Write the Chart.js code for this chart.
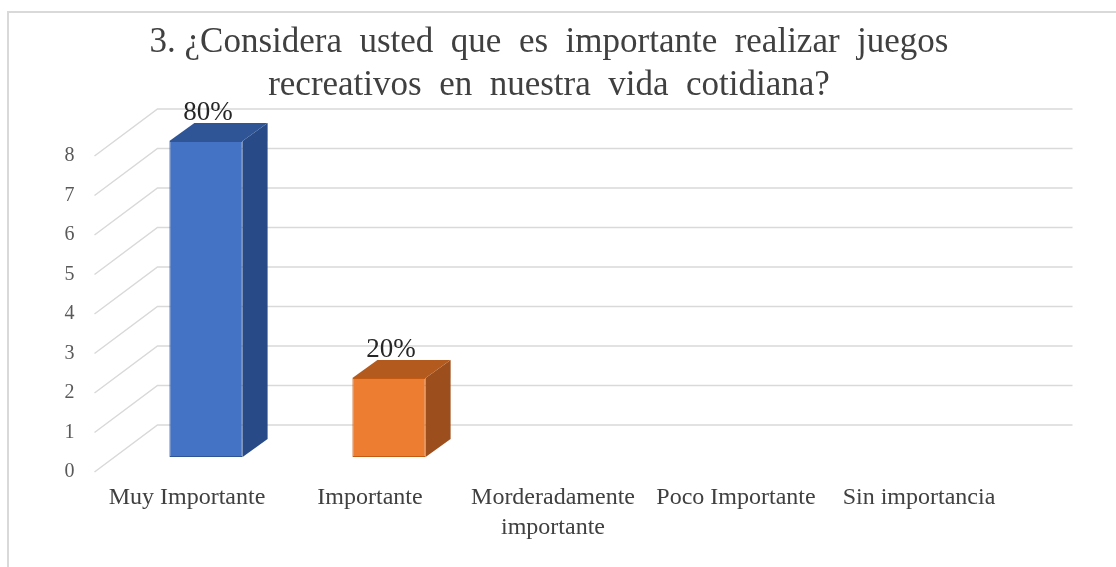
<!DOCTYPE html>
<html>
<head>
<meta charset="utf-8">
<script src="https://cdn.jsdelivr.net/npm/chart.js@4.4.1/dist/chart.umd.min.js"></script>
<style>
  html, body { margin: 0; padding: 0; background: #fff; }
  #wrap { position: relative; width: 1116px; height: 567px; overflow: hidden; }
  #frame { position: absolute; left: 7px; top: 11px; width: 1200px; height: 700px;
           border-top: 2px solid #d9d9d9; border-left: 2px solid #d9d9d9; }
  #chart { position: absolute; left: 0; top: 0; }
</style>
</head>
<body>
<div id="wrap">
  <div id="frame"></div>
  <canvas id="chart" width="1116" height="567"></canvas>
</div>
<script>
// 数据
const categories = ['Muy Importante', 'Importante', ['Morderadamente', 'importante'], 'Poco Importante', 'Sin importancia'];
const values = [8, 2, 0, 0, 0];
const valueLabels = ['80%', '20%', '', '', ''];
const yMin = 0;
const yMax = 8;
const yStep = 1;
const titleLines = ['3. ¿Considera  usted  que  es  importante  realizar  juegos', 'recreativos  en  nuestra  vida  cotidiana?'];

// 颜色（正面 / 侧面 / 顶面）
const frontColors = ['#4472C4', '#ED7D31', '#A5A5A5', '#FFC000', '#5B9BD5'];
const sideColors = ['#284A86', '#9C4E1C', '#6E6E6E', '#A67D00', '#3A6E9E'];
const topColors = ['#2F5597', '#B35A1F', '#7F7F7F', '#BF9000', '#41719C'];
const edgeColors = ['#2F5597', '#C55A11', '#7F7F7F', '#BF9000', '#41719C'];

// 3D 偏移
const depth = { sideDx: 25, sideDy: -18, backDx: 43, backDy: -32, frontDx: -20, frontDy: 15 };

const serif = "'Liberation Serif', 'Times New Roman', serif";

const threeDPlugin = {
  id: 'threeD',
  beforeDatasetsDraw(chart) {
    const { ctx, chartArea, scales } = chart;
    const yScale = scales.y;
    ctx.save();
    ctx.strokeStyle = '#d9d9d9';
    ctx.lineWidth = 1.5;
    yScale.ticks.forEach(t => {
      const y = yScale.getPixelForValue(t.value);
      ctx.beginPath();
      ctx.moveTo(chartArea.left + depth.frontDx, y + depth.frontDy);
      ctx.lineTo(chartArea.left + depth.backDx, y + depth.backDy);
      ctx.lineTo(chartArea.right + depth.backDx, y + depth.backDy);
      ctx.stroke();
    });
    ctx.restore();
  },
  afterDatasetsDraw(chart) {
    const { ctx } = chart;
    const meta = chart.getDatasetMeta(0);
    ctx.save();
    meta.data.forEach((bar, i) => {
      if (!values[i]) return;
      const p = bar.getProps(['x', 'y', 'base', 'width'], true);
      const l = p.x - p.width / 2;
      const r = p.x + p.width / 2;
      // 侧面
      ctx.fillStyle = sideColors[i];
      ctx.beginPath();
      ctx.moveTo(r, p.y);
      ctx.lineTo(r + depth.sideDx, p.y + depth.sideDy);
      ctx.lineTo(r + depth.sideDx, p.base + depth.sideDy);
      ctx.lineTo(r, p.base);
      ctx.closePath();
      ctx.fill();
      // 顶面
      ctx.fillStyle = topColors[i];
      ctx.beginPath();
      ctx.moveTo(l, p.y);
      ctx.lineTo(l + depth.sideDx, p.y + depth.sideDy);
      ctx.lineTo(r + depth.sideDx, p.y + depth.sideDy);
      ctx.lineTo(r, p.y);
      ctx.closePath();
      ctx.fill();
      // 数据标签
      if (valueLabels[i]) {
        ctx.fillStyle = '#262626';
        ctx.font = '27px ' + serif;
        ctx.textAlign = 'center';
        ctx.textBaseline = 'middle';
        ctx.fillText(valueLabels[i], p.x + 2, p.y - 28);
      }
    });
    ctx.restore();
  },
  afterDraw(chart) {
    // 标题（居中位置略偏右，和原图一致）
    const { ctx } = chart;
    ctx.save();
    ctx.fillStyle = '#404040';
    ctx.font = '35px ' + serif;
    ctx.textAlign = 'center';
    ctx.textBaseline = 'middle';
    titleLines.forEach((line, i) => {
      ctx.fillText(line, 549, 43 + i * 43);
    });
    ctx.restore();
  }
};

const chart = new Chart(document.getElementById('chart'), {
  type: 'bar',
  data: {
    labels: categories,
    datasets: [{
      data: values,
      backgroundColor: frontColors,
      borderColor: edgeColors,
      borderWidth: 1,
      borderSkipped: false,
      categoryPercentage: 1,
      barPercentage: 0.4
    }]
  },
  options: {
    responsive: false,
    animation: false,
    devicePixelRatio: 1,
    layout: { padding: { top: 141, right: 86.5, left: 0, bottom: 0 } },
    plugins: {
      legend: { display: false },
      tooltip: { enabled: false },
      title: { display: false }
    },
    scales: {
      x: {
        grid: { display: false, drawTicks: false },
        border: { display: false },
        ticks: {
          color: '#404040',
          font: { family: serif, size: 24, lineHeight: 1.27 },
          labelOffset: -19,
          padding: 25,
          maxRotation: 0,
          autoSkip: false
        },
        afterFit(s) { s.height = 110; }
      },
      y: {
        min: yMin,
        max: yMax,
        grid: { display: false, drawTicks: false },
        border: { display: false },
        ticks: {
          stepSize: yStep,
          color: '#595959',
          font: { family: serif, size: 20 },
          labelOffset: 15,
          padding: 40
        },
        afterFit(s) { s.width = 114.5; }
      }
    }
  },
  plugins: [threeDPlugin]
});
</script>
</body>
</html>
